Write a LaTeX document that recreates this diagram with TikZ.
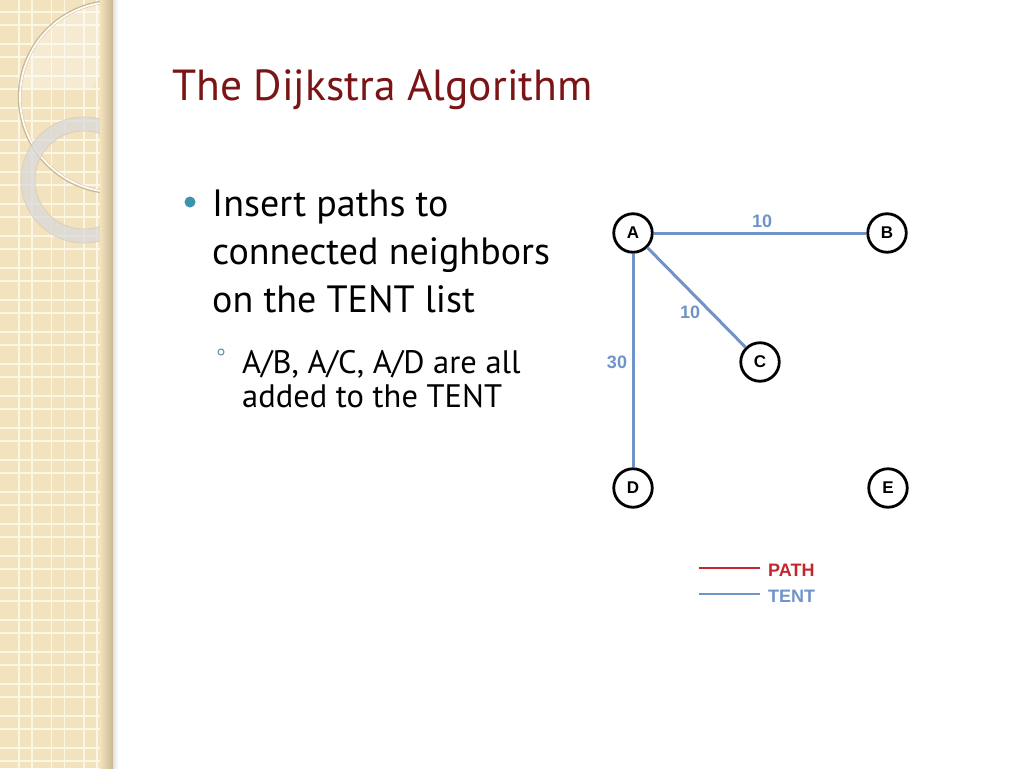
\documentclass[tikz,border=0pt]{standalone}
\usepackage{fontspec}
\setmainfont{PT Sans}
\newfontfamily\labf{Liberation Sans}
\usetikzlibrary{shadings}
\definecolor{band}{RGB}{243,226,190}
\definecolor{gridw}{RGB}{252,246,230}
\definecolor{bandsh}{RGB}{200,184,146}
\definecolor{titlered}{RGB}{122,20,22}
\definecolor{bullteal}{RGB}{59,147,174}
\definecolor{subbull}{RGB}{91,143,168}
\definecolor{tentblue}{RGB}{112,148,200}
\definecolor{pathred}{RGB}{192,40,45}
\tikzset{
  gnode/.style={circle, draw=black, line width=2.8pt, minimum size=38.5pt, inner sep=0pt, fill=white, font=\labf\bfseries\fontsize{17}{17}\selectfont},
  tent/.style={draw=tentblue, line width=3pt},
  pathl/.style={draw=pathred, line width=3pt},
  elab/.style={text=tentblue, font=\labf\bfseries\fontsize{18}{18}\selectfont, inner sep=0pt},
  leg/.style={font=\labf\bfseries\fontsize{18}{18}\selectfont, inner sep=0pt, anchor=west},
  mainline/.style={anchor=base west, inner sep=0pt, font=\fontsize{38}{38}\selectfont},
  subline/.style={anchor=base west, inner sep=0pt, font=\fontsize{32.5}{32.5}\selectfont}
}
\begin{document}
\begin{tikzpicture}[x=1pt,y=-1pt]
\useasboundingbox (0,0) rectangle (1024,768);
\fill[white] (0,0) rectangle (1024,768);
% left band
\fill[band] (0,0) rectangle (113,768);
\begin{scope}
\clip (0,0) rectangle (113,768);
\foreach \k in {-1,...,3} {
  \draw[gridw, line width=1.6pt] (19+32.5*\k,0) -- (19+32.5*\k,768);
  \draw[gridw, line width=1.6pt] (32+32.5*\k,0) -- (32+32.5*\k,768);
}
\foreach \k in {0,...,24} {
  \draw[gridw, line width=1.6pt] (0,12+32*\k) -- (113,12+32*\k);
  \draw[gridw, line width=1.6pt] (0,25+32*\k) -- (113,25+32*\k);
}
% lighter area
\begin{scope}
\clip (115,97) circle (95);
\fill[white, opacity=0.3] (0,0) -- (113,0) -- (113,40) .. controls (105,60) and (98,80) .. (92,88) -- (0,88) -- cycle;
\end{scope}
% big ring
\draw[bandsh, line width=3.5pt] (115,97) circle (95.5);
\draw[white!90!band, line width=1.8pt] (115,97) circle (95);
% small ring
\draw[gray!30!white, opacity=0.75, line width=14pt] (84,180) circle (56);
\draw[bandsh!70!white, line width=0.6pt] (84,180) circle (63);
\draw[bandsh!70!white, line width=0.6pt] (84,180) circle (49);
% shadow
\shade[left color=band, right color=bandsh] (100,0) rectangle (113,768);
\end{scope}
\shade[left color=black!12, right color=white] (113,0) rectangle (118,768);
% title
\node[anchor=base west, inner sep=0pt, text=titlered, font=\fontsize{43.5}{43.5}\selectfont] (title) at (172,100) {The Dijkstra Algorithm};
% bullets
\fill[bullteal] (190,202) circle (5.5);
\node[mainline] (m1) at (212,216) {Insert paths to};
\node[mainline] (m2) at (212,264) {connected neighbors};
\node[mainline] (m3) at (212,312) {on the TENT list};
\draw[subbull, line width=1pt] (221,352) circle (3);
\node[subline] (s1) at (242,373) {A/B, A/C, A/D are all};
\node[subline] (s2) at (242,407) {added to the TENT};
% graph
\node[gnode] (A) at (633,233) {A};
\node[gnode] (B) at (887,233) {B};
\node[gnode] (C) at (760,362) {C};
\node[gnode] (D) at (633,488) {D};
\node[gnode] (E) at (888,488) {E};
\draw[tent] (A) -- (B);
\draw[tent] (A) -- (C);
\draw[tent] (A) -- (D);
\node[elab] (lab) at (762,221) {10};
\node[elab] (lac) at (690,312) {10};
\node[elab] (lad) at (617,362) {30};
% legend
\coordinate (p1) at (699,568);
\coordinate (p2) at (760,568);
\coordinate (t1) at (699,594);
\coordinate (t2) at (760,594);
\draw[pathl, line width=2.6pt] (p1) -- (p2);
\draw[tent, line width=2.6pt] (t1) -- (t2);
\node[leg, text=pathred] (lp) at (768,570) {PATH};
\node[leg, text=tentblue] (lt) at (768,596) {TENT};
\end{tikzpicture}
\end{document}
